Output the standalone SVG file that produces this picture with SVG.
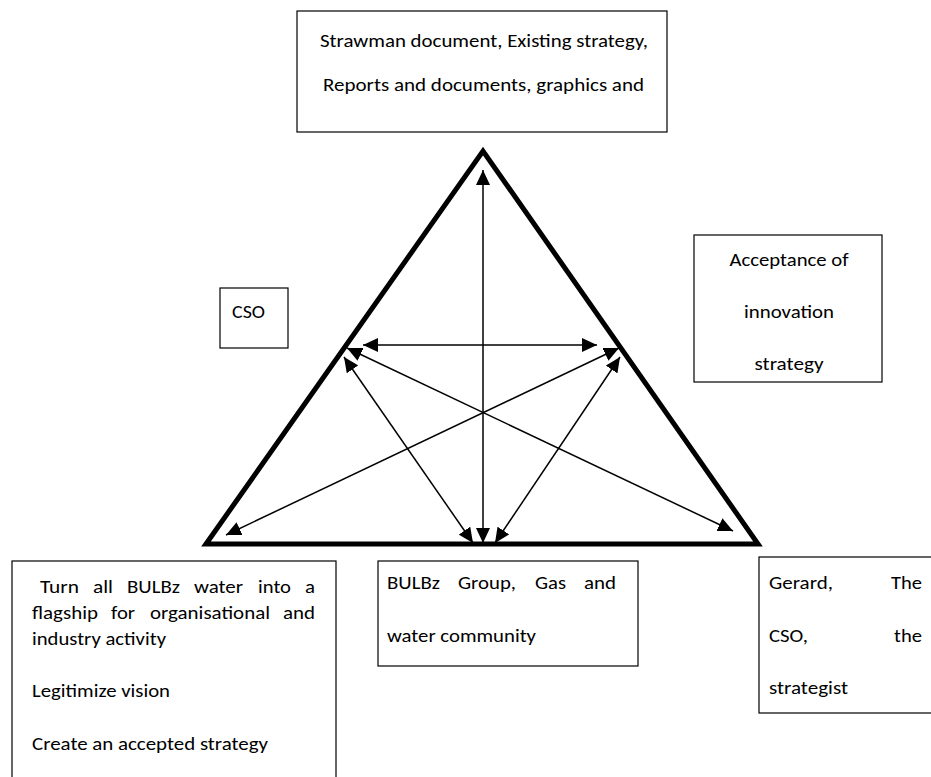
<svg xmlns="http://www.w3.org/2000/svg" width="931" height="777" viewBox="0 0 931 777">
  <style>
    .box { fill: #ffffff; stroke: #000000; stroke-width: 1.2; }
    .tri { fill: none; stroke: #000000; stroke-width: 5; stroke-linejoin: miter; }
    .link { stroke: #000000; stroke-width: 1.5; fill: none; marker-start: url(#head); marker-end: url(#head); }
    text { font-family: Carlito, Lato, "Liberation Sans", sans-serif; font-size: 19px; fill: #000000; }
    .mid { text-anchor: middle; }
  </style>
  <defs>
    <marker id="head" viewBox="0 0 15 14" refX="15" refY="7" markerWidth="15" markerHeight="14" markerUnits="userSpaceOnUse" orient="auto-start-reverse">
      <path d="M0,0 L15,7 L0,14 z" fill="#000000"/>
    </marker>
  </defs>

  <!-- outer triangle -->
  <g id="triangle">
    <polygon class="tri" points="206,544 483,151 758,544"/>
  </g>

  <!-- double-headed connectors inside the triangle -->
  <g id="connectors">
    <line class="link" x1="483" y1="170" x2="483" y2="543"/>
    <line class="link" x1="363" y1="345" x2="597" y2="345"/>
    <line class="link" x1="347" y1="348" x2="733" y2="531"/>
    <line class="link" x1="619" y1="348" x2="226" y2="535"/>
    <line class="link" x1="344" y1="357" x2="473" y2="543"/>
    <line class="link" x1="620" y1="357" x2="495" y2="543"/>
  </g>

  <g id="node-tools">
    <rect class="box" x="297" y="11" width="370" height="121"/>
    <text class="mid" x="484" y="47" textLength="328" lengthAdjust="spacingAndGlyphs">Strawman document, Existing strategy,</text>
    <text class="mid" x="483.5" y="91" textLength="321" lengthAdjust="spacingAndGlyphs">Reports and documents, graphics and</text>
  </g>

  <g id="node-cso">
    <rect class="box" x="220" y="288" width="68" height="60"/>
    <text x="232" y="318" textLength="33" lengthAdjust="spacingAndGlyphs">CSO</text>
  </g>

  <g id="node-acceptance">
    <rect class="box" x="694" y="235" width="188" height="147"/>
    <text class="mid" x="789" y="266" textLength="119" lengthAdjust="spacingAndGlyphs">Acceptance of</text>
    <text class="mid" x="789" y="318" textLength="90" lengthAdjust="spacingAndGlyphs">innovation</text>
    <text class="mid" x="789" y="370" textLength="69" lengthAdjust="spacingAndGlyphs">strategy</text>
  </g>

  <g id="node-objectives">
    <rect class="box" x="12" y="561" width="324" height="230"/>
    <text y="593">
      <tspan x="40" textLength="39" lengthAdjust="spacingAndGlyphs">Turn</tspan>
      <tspan x="93" textLength="20" lengthAdjust="spacingAndGlyphs">all</tspan>
      <tspan x="127" textLength="53" lengthAdjust="spacingAndGlyphs">BULBz</tspan>
      <tspan x="194" textLength="49" lengthAdjust="spacingAndGlyphs">water</tspan>
      <tspan x="258" textLength="33" lengthAdjust="spacingAndGlyphs">into</tspan>
      <tspan x="305" textLength="10" lengthAdjust="spacingAndGlyphs">a</tspan>
    </text>
    <text y="619">
      <tspan x="32" textLength="66" lengthAdjust="spacingAndGlyphs">flagship</tspan>
      <tspan x="111" textLength="24" lengthAdjust="spacingAndGlyphs">for</tspan>
      <tspan x="150" textLength="120" lengthAdjust="spacingAndGlyphs">organisational</tspan>
      <tspan x="283" textLength="32" lengthAdjust="spacingAndGlyphs">and</tspan>
    </text>
    <text x="32" y="645" textLength="134" lengthAdjust="spacingAndGlyphs">industry activity</text>
    <text x="32" y="697" textLength="138" lengthAdjust="spacingAndGlyphs">Legitimize vision</text>
    <text x="32" y="750" textLength="236" lengthAdjust="spacingAndGlyphs">Create an accepted strategy</text>
  </g>

  <g id="node-community">
    <rect class="box" x="378" y="561" width="260" height="105"/>
    <text y="589">
      <tspan x="387" textLength="53" lengthAdjust="spacingAndGlyphs">BULBz</tspan>
      <tspan x="458" textLength="58" lengthAdjust="spacingAndGlyphs">Group,</tspan>
      <tspan x="535" textLength="31" lengthAdjust="spacingAndGlyphs">Gas</tspan>
      <tspan x="584" textLength="32" lengthAdjust="spacingAndGlyphs">and</tspan>
    </text>
    <text x="387" y="642" textLength="149" lengthAdjust="spacingAndGlyphs">water community</text>
  </g>

  <g id="node-people">
    <rect class="box" x="759" y="557" width="190" height="156"/>
    <text y="589">
      <tspan x="769" textLength="64" lengthAdjust="spacingAndGlyphs">Gerard,</tspan>
      <tspan x="891" textLength="31" lengthAdjust="spacingAndGlyphs">The</tspan>
    </text>
    <text y="642">
      <tspan x="769" textLength="39" lengthAdjust="spacingAndGlyphs">CSO,</tspan>
      <tspan x="894" textLength="28" lengthAdjust="spacingAndGlyphs">the</tspan>
    </text>
    <text x="769" y="694" textLength="79" lengthAdjust="spacingAndGlyphs">strategist</text>
  </g>
</svg>
